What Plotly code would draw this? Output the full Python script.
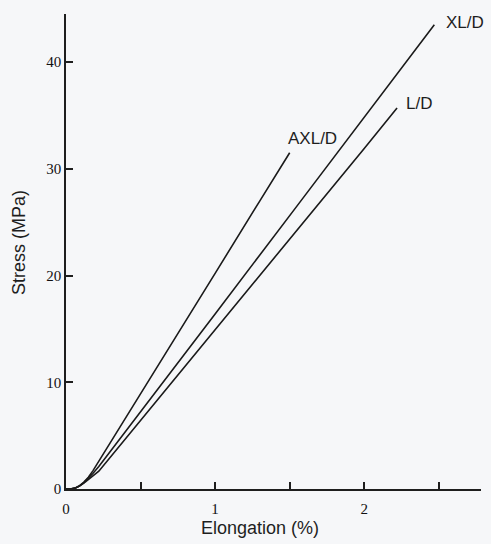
import plotly.graph_objects as go

# Data (Elongation %, Stress MPa)
axld_x = [0.0, 0.03, 0.06, 0.09, 0.12, 0.15, 0.18, 0.22, 0.50, 1.00, 1.30, 1.50]
axld_y = [0.0, 0.0, 0.08, 0.3, 0.65, 1.1, 1.7, 2.6, 8.9, 20.2, 27.0, 31.5]

xld_x = [0.0, 0.03, 0.06, 0.09, 0.12, 0.15, 0.18, 0.22, 0.56, 1.00, 1.57, 2.00, 2.47]
xld_y = [0.0, 0.0, 0.08, 0.28, 0.6, 1.0, 1.45, 2.1, 8.3, 16.4, 26.9, 34.8, 43.5]

ld_x = [0.0, 0.03, 0.06, 0.09, 0.12, 0.15, 0.18, 0.22, 0.61, 1.00, 1.57, 2.00, 2.22]
ld_y = [0.0, 0.0, 0.08, 0.27, 0.55, 0.9, 1.25, 1.67, 8.3, 14.9, 24.6, 31.9, 35.7]

series = [
    ("AXL/D", axld_x, axld_y, 1.65, 32.8),
    ("XL/D", xld_x, xld_y, 2.675, 43.7),
    ("L/D", ld_x, ld_y, 2.365, 36.1),
]

x_ticks = [0, 1, 2]
x_minor = [0.5, 1.5, 2.5]
y_ticks = [0, 10, 20, 30, 40]

fig = go.Figure()
for name, xs, ys, lx, ly in series:
    fig.add_trace(go.Scatter(x=xs, y=ys, mode="lines", name=name,
                             line=dict(color="#1a1a1a", width=1.6),
                             showlegend=False, hoverinfo="skip"))
    fig.add_annotation(x=lx, y=ly, text=name, showarrow=False,
                       font=dict(family="Liberation Sans, Arial", size=17, color="#1e1e1e"))

fig.add_annotation(x=1.303, y=0, xref="x", yref="paper", yshift=-39, yanchor="middle",
                   text="Elongation (%)", showarrow=False,
                   font=dict(family="Liberation Sans, Arial", size=18, color="#1e1e1e"))
fig.add_annotation(x=0, y=23.05, xref="paper", yref="y", xshift=-47, xanchor="center",
                   text="Stress (MPa)", textangle=-90, showarrow=False,
                   font=dict(family="Liberation Sans, Arial", size=18, color="#1e1e1e"))

axis_common = dict(showgrid=False, zeroline=False, showline=True, linecolor="#1e1e1e",
                   linewidth=1.5, ticks="inside", ticklen=7, tickwidth=1.5, tickcolor="#1e1e1e",
                   tickfont=dict(family="Liberation Serif, Times New Roman", size=15, color="#111"))

fig.update_xaxes(range=[0, 2.783], tickvals=x_ticks, ticktext=[str(v) for v in x_ticks],
                 ticklabelstandoff=5,
                 minor=dict(tickvals=x_minor, ticks="inside", ticklen=7,
                            tickwidth=1.5, tickcolor="#1e1e1e"),
                 **axis_common)
fig.update_yaxes(range=[0, 44.5], tickvals=y_ticks, ticktext=[str(v) for v in y_ticks],
                 **axis_common)

fig.update_layout(width=491, height=544, margin=dict(l=66, r=10, t=14, b=55),
                  paper_bgcolor="#f6f7f9", plot_bgcolor="#f6f7f9")

fig.write_html("out.html")
